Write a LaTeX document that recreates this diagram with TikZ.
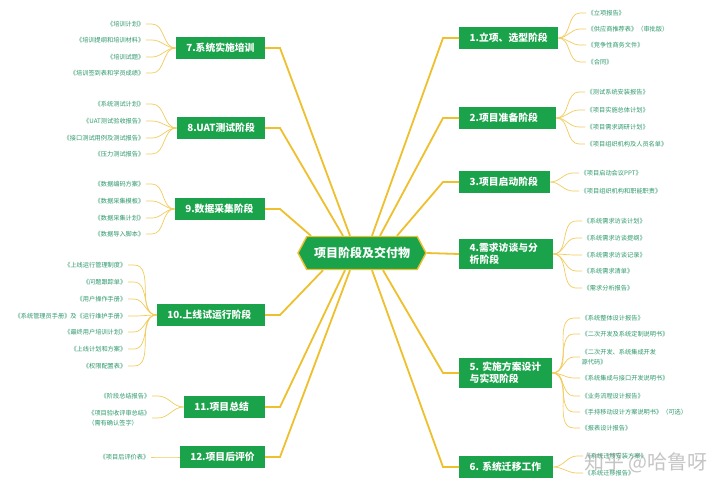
\documentclass[tikz,border=0pt]{standalone}
\usepackage{fontspec}
\setmainfont{Noto Sans CJK SC}
\usetikzlibrary{shapes.symbols}
\definecolor{stagegreen}{RGB}{26,163,74}
\definecolor{linkgold}{RGB}{238,192,46}
\definecolor{twiggold}{RGB}{242,204,92}
\definecolor{docgreen}{RGB}{44,152,106}
\tikzset{
	stage/.style={fill=stagegreen, text=white, font=\bfseries\fontsize{9.8}{12}\selectfont, inner xsep=10.5pt, inner ysep=4pt, minimum height=22pt, align=left, text width=#1},
	stage/.default=70pt,
	core/.style={shape=signal, signal to=west and east, signal pointer angle=124, fill=stagegreen, draw=linkgold, line width=1.4pt, text=white, font=\bfseries\fontsize{12}{14}\selectfont, minimum width=128pt, minimum height=33pt, inner xsep=4pt},
	doc/.style={text=docgreen, font=\fontsize{6.2}{9.5}\selectfont, inner xsep=1.5pt, inner ysep=1pt, align=left},
	link/.style={draw=linkgold, line width=1.8pt},
	twig/.style={draw=twiggold, line width=0.7pt},
}
\begin{document}
\begin{tikzpicture}[x=1pt, y=-1pt]
		\fill[white] (0,0) rectangle (720,493);
		\useasboundingbox (0,0) rectangle (720,493);
		\node[core] (hub) at (362,253) {项目阶段及交付物};
		\node[stage=78pt, anchor=west] (s1) at (459,38) {1.立项、选型阶段};
		\node[stage=76pt, anchor=west] (s2) at (459,118) {2.项目准备阶段};
		\node[stage=70pt, anchor=west] (s3) at (459,182) {3.项目启动阶段};
		\node[stage=73pt, anchor=west] (s4) at (459,254) {4.需求访谈与分\\析阶段};
		\node[stage=72pt, anchor=west] (s5) at (459,373) {5.~实施方案设计\\与实现阶段};
		\node[stage=73pt, anchor=west] (s6) at (459,467) {6.~系统迁移工作};
		\node[stage=68pt, anchor=east] (s7) at (265,48) {7.系统实施培训};
		\node[stage=67pt, anchor=east] (s8) at (265,128) {8.UAT测试阶段};
		\node[stage=69pt, anchor=east] (s9) at (265,209) {9.数据采集阶段};
		\node[stage=87pt, anchor=east] (s10) at (265,315) {10.上线试运行阶段};
		\node[stage=60pt, anchor=east] (s11) at (265,407) {11.项目总结};
		\node[stage=64pt, anchor=east] (s12) at (265,457) {12.项目后评价};
		\foreach \s/\x in {s1/372, s2/380, s3/397} \draw[link] (\s.west) -- ++(-16,0) -- (hub.north -| \x,0);
		\foreach \s/\x in {s5/383, s6/372} \draw[link] (\s.west) -- ++(-16,0) -- (hub.south -| \x,0);
		\foreach \s/\x in {s7/350, s8/343, s9/311} \draw[link] (\s.east) -- ++(15,0) -- (hub.north -| \x,0);
		\foreach \s/\x in {s10/323, s11/345, s12/350} \draw[link] (\s.east) -- ++(15,0) -- (hub.south -| \x,0);
		\draw[link] (hub.east) -- (s4.west);
		\foreach \s/\x/\l in {
				s1/586/{13/《立项报告》, 29/《供应商推荐表》（审批版）, 45/《竞争性商务文件》, 62/《合同》},
				s2/585/{92/《测试系统安装报告》, 110/《项目实施总体计划》, 127/《项目需求调研计划》, 144/《项目组织机构及人员名单》},
				s3/579/{173/《项目启动会议PPT》, 191/《项目组织机构和职能职责》},
				s4/582/{221/《系统需求访谈计划》, 238/《系统需求访谈提纲》, 255/《系统需求访谈记录》, 271/《系统需求清单》, 288/《需求分析报告》},
				s5/580/{318/《系统整体设计报告》, 334/《二次开发及系统定制说明书》, 357/《二次开发、系统集成开发\\源代码》, 378/《系统集成与接口开发说明书》, 396/《业务流程设计报告》, 412/《手持移动设计方案说明书》（可选）, 428/《报表设计报告》},
				s6/583/{456/《系统迁移安装方案》, 473/《系统迁移报告》}}
			\foreach \y/\t [count=\i] in \l {
				\node[doc, anchor=west] (\s-\i) at (\x,\y) {\t};
				\draw[twig] (\s.east) to[out=0, in=180] ([xshift=-6pt]\s-\i.west) -- (\s-\i.west);
			}
		\foreach \s/\x/\l in {
				s7/146/{24/《培训计划》, 40/《培训提纲和培训材料》, 57/《培训试题》, 73/《培训签到表和学员成绩》},
				s8/146/{104/《系统测试计划》, 121/《UAT测试验收报告》, 138/《接口测试用例及测试报告》, 154/《压力测试报告》},
				s9/146/{184/《数据编码方案》, 201/《数据采集模板》, 218/《数据采集计划》, 234/《数据导入脚本》},
				s10/128/{265/《上线运行管理制度》, 282/《问题跟踪单》, 299/《用户操作手册》, 316/《系统管理员手册》及《运行维护手册》, 332/《最终用户培训计划》, 349/《上线计划和方案》, 366/《权限配置表》},
				s11/152/{396/《阶段总结报告》, 418/《项目验收评审总结》\\（需有确认签字）},
				s12/151/{457/《项目后评价表》}}
			\foreach \y/\t [count=\i] in \l {
				\node[doc, anchor=east] (\s-\i) at (\x,\y) {\t};
				\draw[twig] (\s.west) to[out=180, in=0] ([xshift=6pt]\s-\i.east) -- (\s-\i.east);
			}
		\node[text=gray, opacity=0.45, font=\fontsize{20}{24}\selectfont] (mark) at (646,463) {知乎 @哈鲁呀};
	\end{tikzpicture}
\end{document}
